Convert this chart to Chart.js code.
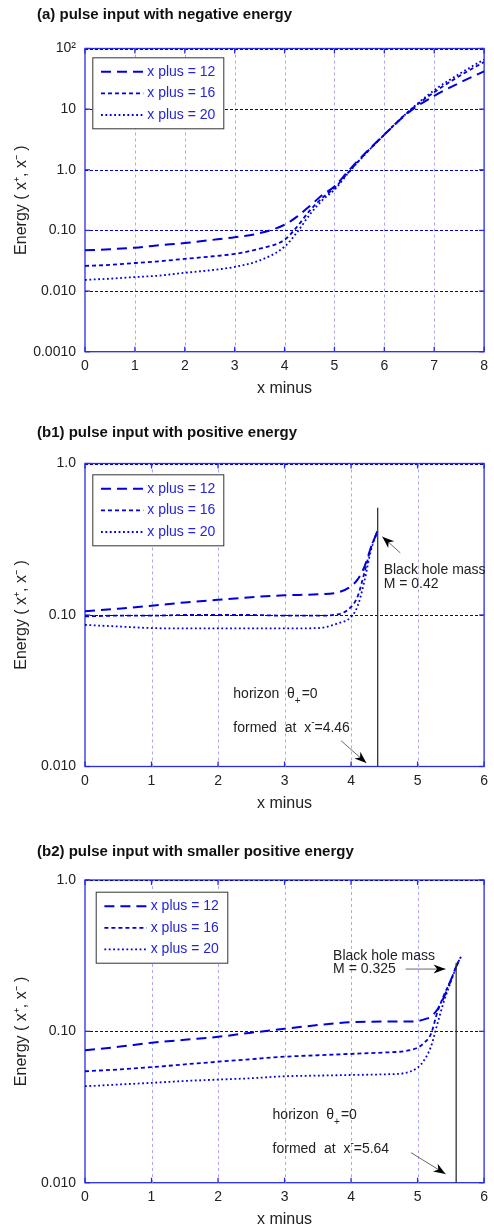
<!DOCTYPE html>
<html>
<head>
<meta charset="utf-8">
<script src="https://cdn.jsdelivr.net/npm/chart.js@4"></script>
<style>
  body { margin: 0; background: #fff; width: 494px; height: 1226px; position: relative; overflow: hidden; }
  .panel { position: absolute; left: 0; width: 494px; height: 415px; }
</style>
</head>
<body>
<div class="panel" style="top:0"><canvas id="chartA" width="494" height="415"></canvas></div>
<div class="panel" style="top:400px"><canvas id="chartB1" width="494" height="415"></canvas></div>
<div class="panel" style="top:815px"><canvas id="chartB2" width="494" height="415"></canvas></div>
<script>
const FONT = '"Liberation Sans", Arial, Helvetica, sans-serif';
Chart.defaults.font.family = FONT;
Chart.defaults.color = '#222';

const seriesLabels = ['x plus = 12', 'x plus = 16', 'x plus = 20'];

// (a) pulse input with negative energy
const xA = [0, 0.5, 1, 1.5, 2, 2.5, 3, 3.5, 4, 4.25, 4.5, 4.75, 5, 5.25, 5.5, 6, 6.5, 7, 7.5, 8];
const a12 = [0.047, 0.049, 0.052, 0.057, 0.062, 0.069, 0.077, 0.090, 0.124, 0.169, 0.25, 0.38, 0.53, 0.90, 1.5, 3.8, 9.0, 16.5, 27, 42];
const a16 = [0.026, 0.027, 0.029, 0.031, 0.034, 0.037, 0.041, 0.050, 0.070, 0.115, 0.21, 0.34, 0.50, 0.85, 1.45, 3.8, 9.3, 19, 35, 60];
const a20 = [0.0153, 0.016, 0.017, 0.018, 0.020, 0.022, 0.025, 0.032, 0.054, 0.093, 0.18, 0.31, 0.47, 0.83, 1.42, 3.8, 9.4, 20.5, 38, 66];
const xTicksA = [0, 1, 2, 3, 4, 5, 6, 7, 8];
const yTicksA = [0.001, 0.01, 0.1, 1, 10, 100];
const yLabelsA = ['0.0010', '0.010', '0.10', '1.0', '10', '10²'];

// (b1) pulse input with positive energy
const xB1 = [0, 0.5, 1, 1.5, 2, 2.5, 3, 3.5, 3.8, 4.0, 4.1, 4.2, 4.3, 4.4];
const b1_12 = [0.106, 0.110, 0.115, 0.121, 0.126, 0.131, 0.135, 0.137, 0.141, 0.155, 0.172, 0.208, 0.28, 0.36];
const b1_16 = [0.098, 0.099, 0.099, 0.100, 0.100, 0.100, 0.099, 0.099, 0.101, 0.113, 0.133, 0.19, 0.28, 0.36];
const b1_20 = [0.086, 0.084, 0.082, 0.0815, 0.0815, 0.0815, 0.0815, 0.082, 0.088, 0.097, 0.115, 0.167, 0.268, 0.36];
const xTicksB = [0, 1, 2, 3, 4, 5, 6];
const yTicksB = [0.01, 0.1, 1];
const yLabelsB = ['0.010', '0.10', '1.0'];

// (b2) pulse input with smaller positive energy
const xB2 = [0, 0.5, 1, 1.5, 2, 2.5, 3, 3.5, 4, 4.5, 4.8, 5, 5.1, 5.2, 5.3, 5.4, 5.5, 5.6, 5.65];
const b2_12 = [0.075, 0.079, 0.084, 0.088, 0.092, 0.098, 0.104, 0.110, 0.115, 0.116, 0.116, 0.117, 0.120, 0.125, 0.14, 0.17, 0.218, 0.28, 0.31];
const b2_16 = [0.0545, 0.056, 0.058, 0.0605, 0.063, 0.0655, 0.068, 0.0695, 0.071, 0.0725, 0.074, 0.078, 0.084, 0.096, 0.135, 0.175, 0.218, 0.28, 0.31];
const b2_20 = [0.0434, 0.0445, 0.0457, 0.047, 0.048, 0.049, 0.0505, 0.051, 0.0515, 0.052, 0.053, 0.0576, 0.0646, 0.079, 0.113, 0.16, 0.212, 0.28, 0.31];

const LINE_BLUE = '#0000dd';
const FRAME_BLUE = '#2a2ae6';

function line(ctx, x1, y1, x2, y2) {
  ctx.beginPath(); ctx.moveTo(x1, y1); ctx.lineTo(x2, y2); ctx.stroke();
}

function arrow(ctx, x1, y1, x2, y2) {
  ctx.strokeStyle = '#444'; ctx.lineWidth = 0.8; ctx.setLineDash([]);
  line(ctx, x1, y1, x2, y2);
  const ang = Math.atan2(y2 - y1, x2 - x1), L = 12, W = 4.5;
  const c = Math.cos(ang), s = Math.sin(ang);
  ctx.fillStyle = '#000';
  ctx.beginPath();
  ctx.moveTo(x2, y2);
  ctx.lineTo(x2 - L * c + W * s, y2 - L * s - W * c);
  ctx.lineTo(x2 - L * 0.7 * c, y2 - L * 0.7 * s);
  ctx.lineTo(x2 - L * c - W * s, y2 - L * s + W * c);
  ctx.closePath(); ctx.fill();
}

function drawParts(ctx, x, y, parts) {
  let cx = x;
  ctx.fillStyle = '#222'; ctx.textBaseline = 'middle'; ctx.textAlign = 'left';
  parts.forEach(p => {
    ctx.font = (p.size || 14) + 'px ' + FONT;
    ctx.fillText(p.t, cx, y + (p.dy || 0));
    cx += ctx.measureText(p.t).width + (p.gap || 0);
  });
}

function panelPlugin(o) {
  return {
    id: 'panel',
    beforeDatasetsDraw(chart) {
      const { ctx, chartArea: a, scales: { x, y } } = chart;
      ctx.save();
      ctx.lineWidth = 1.3; ctx.strokeStyle = FRAME_BLUE;
      ctx.strokeRect(a.left, a.top, a.right - a.left, a.bottom - a.top);
      ctx.lineWidth = 1; ctx.strokeStyle = '#a9a9f2'; ctx.setLineDash([3, 3]);
      o.xTicks.forEach(v => {
        if (v === o.xTicks[0] || v === o.xTicks[o.xTicks.length - 1]) return;
        const px = Math.round(x.getPixelForValue(v)) + 0.5;
        line(ctx, px, a.top, px, a.bottom);
      });
      ctx.strokeStyle = '#0000c0'; ctx.setLineDash([3, 2]);
      o.yTicks.forEach((v, i) => {
        if (i === 0) return;
        const py = Math.round(y.getPixelForValue(v)) + 0.5;
        line(ctx, a.left, py, a.right, py);
      });
      ctx.setLineDash([]); ctx.strokeStyle = FRAME_BLUE; ctx.lineWidth = 1.3;
      o.xTicks.forEach(v => {
        const px = x.getPixelForValue(v);
        line(ctx, px, a.bottom, px, a.bottom - 5);
        line(ctx, px, a.top, px, a.top + 5);
      });
      o.yTicks.forEach(v => {
        const py = y.getPixelForValue(v);
        line(ctx, a.left, py, a.left + 5, py);
        line(ctx, a.right, py, a.right - 5, py);
      });
      ctx.restore();
    },
    afterDatasetsDraw(chart) {
      const { ctx, chartArea: a, scales: { x, y } } = chart;
      ctx.save();
      if (o.marker) {
        ctx.strokeStyle = '#333'; ctx.lineWidth = 1.3;
        const px = x.getPixelForValue(o.marker.x);
        line(ctx, px, y.getPixelForValue(o.marker.top), px, y.getPixelForValue(o.marker.bottom));
      }
      (o.arrows || []).forEach(r => arrow(ctx,
        x.getPixelForValue(r[0]), y.getPixelForValue(r[1]),
        x.getPixelForValue(r[2]), y.getPixelForValue(r[3])));
      (o.notes || []).forEach(n => drawParts(ctx, x.getPixelForValue(n.x), y.getPixelForValue(n.y), n.parts));

      // legend box
      const bx = a.left + o.legend.dx, by = a.top + o.legend.dy;
      ctx.fillStyle = '#fff'; ctx.fillRect(bx, by, o.legend.w, 71);
      ctx.strokeStyle = '#333'; ctx.lineWidth = 1;
      ctx.strokeRect(bx + 0.5, by + 0.5, o.legend.w, 71);
      chart.data.datasets.forEach((ds, i) => {
        const ry = by + 14.5 + i * 21.6;
        ctx.strokeStyle = ds.borderColor; ctx.lineWidth = ds.borderWidth;
        ctx.setLineDash(ds.borderDash);
        line(ctx, bx + 8.7, ry, bx + 51, ry);
        ctx.setLineDash([]);
        ctx.fillStyle = '#2424dd'; ctx.font = '14px ' + FONT;
        ctx.textBaseline = 'middle'; ctx.textAlign = 'left';
        ctx.fillText(ds.label, bx + 55, ry);
      });

      ctx.fillStyle = '#111'; ctx.font = 'bold 15px ' + FONT;
      ctx.textBaseline = 'middle'; ctx.textAlign = 'left';
      ctx.fillText(o.title, 37, o.titleY);
      ctx.restore();
    }
  };
}

const STYLES = [
  { d: [10, 6], w: 2 },
  { d: [4, 3], w: 1.8 },
  { d: [1.8, 2.6], w: 1.8 }
];

function makePanel(id, o) {
  const canvas = document.getElementById(id);
  const H = canvas.height;
  const datasets = o.series.map((ys, i) => ({
    label: seriesLabels[i],
    data: o.xs.map((xv, j) => ({ x: xv, y: ys[j] })),
    borderColor: LINE_BLUE,
    borderWidth: STYLES[i].w,
    borderDash: STYLES[i].d,
    pointRadius: 0,
    fill: false,
    cubicInterpolationMode: 'monotone'
  }));
  new Chart(canvas, {
    type: 'line',
    data: { datasets: datasets },
    options: {
      responsive: false,
      animation: false,
      events: [],
      layout: { padding: { top: o.top, right: 5, left: 0, bottom: 0 } },
      plugins: { legend: { display: false }, tooltip: { enabled: false } },
      scales: {
        x: {
          type: 'linear',
          min: o.xTicks[0], max: o.xTicks[o.xTicks.length - 1],
          afterFit: s => { s.height = H - o.bottom; },
          afterBuildTicks: s => { s.ticks = o.xTicks.map(v => ({ value: v })); },
          grid: { display: false, drawTicks: false },
          border: { display: false },
          ticks: { padding: 6, color: '#222', font: { size: 14 }, maxRotation: 0, autoSkip: false, callback: v => String(v) },
          title: { display: true, text: 'x minus', color: '#222', font: { size: 16 },
                   padding: { top: 0, bottom: H - o.bottom - 37 - 9.6 } }
        },
        y: {
          type: 'logarithmic',
          min: o.yTicks[0], max: o.yTicks[o.yTicks.length - 1],
          afterFit: s => { s.width = 85; },
          afterBuildTicks: s => { s.ticks = o.yTicks.map(v => ({ value: v })); },
          grid: { display: false, drawTicks: false },
          border: { display: false },
          ticks: { padding: 9, color: '#222', font: { size: 14 }, autoSkip: false, callback: (v, i) => o.yLabels[i] },
          title: { display: true, text: 'Energy ( x⁺, x⁻ )', color: '#222', font: { size: 16 },
                   padding: { top: 12, bottom: 0 } }
        }
      }
    },
    plugins: [panelPlugin(o)]
  });
}

makePanel('chartA', {
  title: '(a) pulse input with negative energy', titleY: 15,
  top: 48.5, bottom: 351.7,
  xs: xA, series: [a12, a16, a20],
  xTicks: xTicksA, yTicks: yTicksA, yLabels: yLabelsA,
  legend: { dx: 7.3, dy: 8.8, w: 131 }
});

makePanel('chartB1', {
  title: '(b1) pulse input with positive energy', titleY: 33,
  top: 63.5, bottom: 366.5,
  xs: xB1, series: [b1_12, b1_16, b1_20],
  xTicks: xTicksB, yTicks: yTicksB, yLabels: yLabelsB,
  legend: { dx: 7.3, dy: 10.8, w: 131 },
  marker: { x: 4.40, top: 0.51, bottom: 0.01 },
  arrows: [[4.74, 0.257, 4.47, 0.329], [3.85, 0.0148, 4.23, 0.01054]],
  notes: [
    { x: 4.49, y: 0.198, parts: [{ t: 'Black hole mass' }] },
    { x: 4.49, y: 0.160, parts: [{ t: 'M = 0.42' }] },
    { x: 2.23, y: 0.0301, parts: [{ t: 'horizon  θ' }, { t: '+', dy: 7, size: 10, gap: 1 }, { t: '=0' }] },
    { x: 2.23, y: 0.01795, parts: [{ t: 'formed  at  x' }, { t: '-', dy: -6, size: 10 }, { t: '=4.46' }] }
  ]
});

makePanel('chartB2', {
  title: '(b2) pulse input with smaller positive energy', titleY: 37,
  top: 65, bottom: 367.7,
  xs: xB2, series: [b2_12, b2_16, b2_20],
  xTicks: xTicksB, yTicks: yTicksB, yLabels: yLabelsB,
  legend: { dx: 10.7, dy: 11.7, w: 131.6 },
  marker: { x: 5.58, top: 0.283, bottom: 0.01 },
  arrows: [[4.82, 0.258, 5.42, 0.258], [4.90, 0.0158, 5.42, 0.01143]],
  notes: [
    { x: 3.73, y: 0.316, parts: [{ t: 'Black hole mass' }] },
    { x: 3.73, y: 0.258, parts: [{ t: 'M = 0.325' }] },
    { x: 2.82, y: 0.028, parts: [{ t: 'horizon  θ' }, { t: '+', dy: 7, size: 10, gap: 1 }, { t: '=0' }] },
    { x: 2.82, y: 0.0167, parts: [{ t: 'formed  at  x' }, { t: '-', dy: -6, size: 10 }, { t: '=5.64' }] }
  ]
});
</script>
</body>
</html>
